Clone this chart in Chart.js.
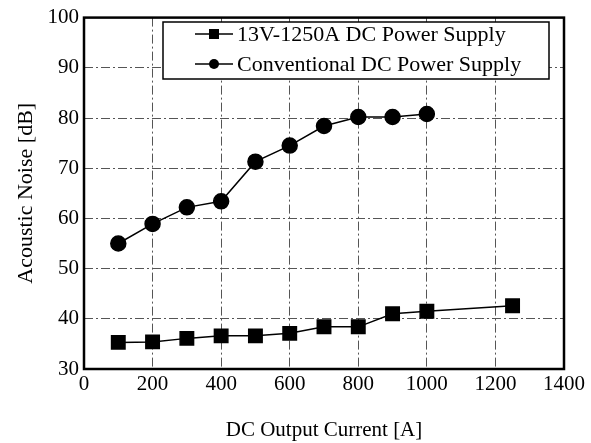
<!doctype html>
<html lang="en">
<head>
<meta charset="UTF-8" />
<title>Acoustic Noise</title>
<style>
  html, body { margin: 0; padding: 0; background: #fff; }
  #wrap { width: 591px; height: 443px; }
</style>
</head>
<body>
<div id="wrap"><canvas id="canvas" width="591" height="443"></canvas></div>
<script src="https://cdn.jsdelivr.net/npm/chart.js"></script>
<script>
// data
const newCurrent = [100, 200, 300, 400, 500, 600, 700, 800, 900, 1000, 1250]
const newNoise = [35.3, 35.4, 36.1, 36.6, 36.6, 37.1, 38.4, 38.4, 41.0, 41.5, 42.6]
const convCurrent = [100, 200, 300, 400, 500, 600, 700, 800, 900, 1000]
const convNoise = [55.0, 58.9, 62.2, 63.4, 71.3, 74.5, 78.4, 80.2, 80.2, 80.8]
const seriesNames = ['13V-1250A DC Power Supply', 'Conventional DC Power Supply']
const xTicks = [0, 200, 400, 600, 800, 1000, 1200, 1400]
const yTicks = [30, 40, 50, 60, 70, 80, 90, 100]

const FONT = '"Liberation Serif", "DejaVu Serif", serif'

function pts(xs, ys) { return xs.map((x, i) => ({x: x, y: ys[i]})) }

const boxPlugin = {
  id: 'boxAndLegend',
  afterDatasetsDraw(chart) {
    const {ctx, chartArea: a} = chart
    ctx.save()
    ctx.strokeStyle = '#000'
    ctx.lineWidth = 2.5
    ctx.strokeRect(a.left, a.top, a.right - a.left, a.bottom - a.top)
    // legend box
    const lx = 163, ly = 22
    const lw = 386, lh = 57
    ctx.fillStyle = '#fff'
    ctx.fillRect(lx, ly, lw, lh)
    ctx.lineWidth = 1.5
    ctx.strokeRect(lx, ly, lw, lh)
    ctx.font = '22px ' + FONT
    ctx.textBaseline = 'middle'
    chart.data.datasets.forEach((ds, i) => {
      const cy = ly + 12 + i * 30
      ctx.strokeStyle = '#000'
      ctx.lineWidth = 1.5
      ctx.beginPath(); ctx.moveTo(lx + 32, cy); ctx.lineTo(lx + 70, cy); ctx.stroke()
      ctx.fillStyle = '#000'
      if (ds.pointStyle === 'rect') ctx.fillRect(lx + 46, cy - 5, 10, 10)
      else { ctx.beginPath(); ctx.arc(lx + 51, cy, 5, 0, Math.PI * 2); ctx.fill() }
      ctx.fillText(ds.label, lx + 74, cy + 1)
    })
    ctx.restore()
  }
}

const gridDash = [9, 3, 2, 3]

new Chart(document.getElementById('canvas'), {
  type: 'scatter',
  data: {
    datasets: [
      { label: seriesNames[0], data: pts(newCurrent, newNoise), showLine: true,
        borderColor: '#000', backgroundColor: '#000', borderWidth: 1.5,
        pointStyle: 'rect', pointRadius: 9.5, pointHoverRadius: 9.5 },
      { label: seriesNames[1], data: pts(convCurrent, convNoise), showLine: true,
        borderColor: '#000', backgroundColor: '#000', borderWidth: 1.5,
        pointStyle: 'circle', pointRadius: 7.5, pointHoverRadius: 7.5 }
    ]
  },
  options: {
    responsive: false,
    animation: false,
    layout: { padding: { top: 15, right: 27, left: 0, bottom: 0 } },
    plugins: { legend: { display: false }, tooltip: { enabled: false } },
    scales: {
      x: {
        type: 'linear', min: 0, max: 1400,
        afterBuildTicks: s => { s.ticks = xTicks.map(v => ({value: v})) },
        afterFit: s => { s.height = 443 - 369 },
        ticks: { color: '#000', font: { family: FONT, size: 21 }, padding: 3, maxRotation: 0,
                 callback: v => String(v) },
        grid: { color: '#555', lineWidth: 1, drawTicks: false },
        border: { display: false, dash: gridDash },
        title: { display: true, text: 'DC Output Current [A]', color: '#000',
                 font: { family: FONT, size: 21 }, padding: { top: 0, bottom: 0 } }
      },
      y: {
        min: 30, max: 100,
        afterBuildTicks: s => { s.ticks = yTicks.map(v => ({value: v})) },
        afterFit: s => { s.width = 84 },
        ticks: { color: '#000', font: { family: FONT, size: 21 }, padding: 5,
                 callback: v => String(v) },
        grid: { color: '#555', lineWidth: 1, drawTicks: false },
        border: { display: false, dash: gridDash },
        title: { display: true, text: 'Acoustic Noise [dB]', color: '#000',
                 font: { family: FONT, size: 22 }, padding: { top: 13, bottom: 4 } }
      }
    }
  },
  plugins: [boxPlugin]
})
</script>
</body>
</html>
